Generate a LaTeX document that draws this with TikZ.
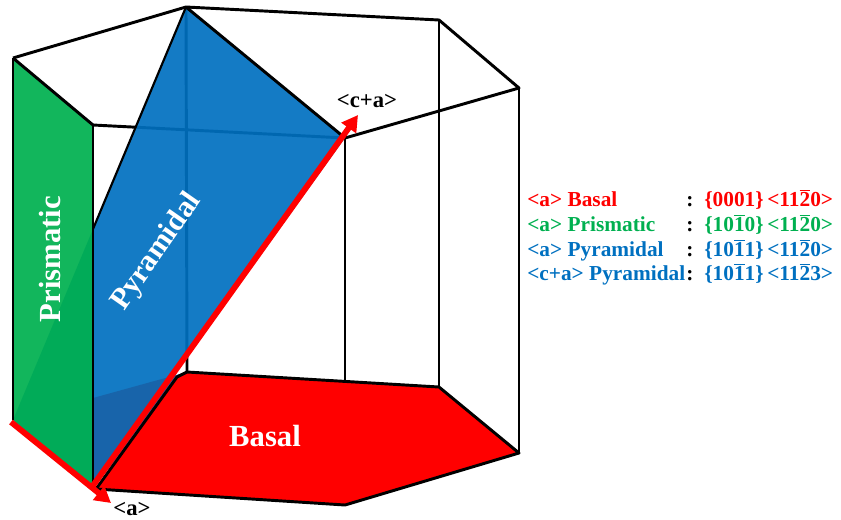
\documentclass[tikz,border=0pt]{standalone}
\usepackage{fontspec}
\setmainfont{Liberation Serif}
\usetikzlibrary{arrows.meta}
\newcommand{\ob}[1]{$\overline{\mbox{#1}}$}
\definecolor{slipred}{RGB}{255,0,0}
\definecolor{slipgreen}{RGB}{0,176,80}
\definecolor{slipblue}{RGB}{0,112,192}
\definecolor{slipdark}{RGB}{24,100,170}
\tikzset{
    edge/.style={black,line width=2.2pt,line join=round},
    thinedge/.style={black,line width=1.6pt},
    slip/.style={slipred,line width=4.4pt,-{Triangle[length=12pt,width=13pt]}},
    legend/.style={anchor=base west,inner sep=0pt,font=\fontsize{16}{16}\selectfont\bfseries},
    planelabel/.style={white,inner sep=0pt,font=\fontsize{23}{23}\selectfont\bfseries},
    dirlabel/.style={black,inner sep=0pt,font=\fontsize{17}{17}\selectfont\bfseries}
}
\begin{document}
\begin{tikzpicture}[y=-0.75pt,x=0.75pt]
    \useasboundingbox (0,0) rectangle (841,519);
    % top hexagon
    \coordinate (a1) at (13,58);
    \coordinate (b1) at (186,7);
    \coordinate (c1) at (439,20);
    \coordinate (d1) at (519,88);
    \coordinate (e1) at (345,138);
    \coordinate (f1) at (93,125);
    % bottom hexagon
    \coordinate (a2) at (13,420);
    \coordinate (b2) at (187,372);
    \coordinate (c2) at (439,387);
    \coordinate (d2) at (519,453);
    \coordinate (e2) at (345,505);
    \coordinate (f2) at (93,488);
    \coordinate (bc) at (177,377);
    \coordinate (fc) at (96,489);
    % arrow ends
    \coordinate (as) at (11,422);
    \coordinate (at) at (111,503);
    \coordinate (cs) at (92,487);
    \coordinate (ct) at (358,115);
    \coordinate (gh) at (93,398);
    \coordinate (gb) at (93,229);

    % back edges
    \draw[edge] (b1) -- (b2);
    \draw[edge] (e1) -- (e2);
    \draw[edge] (c1) -- (c2);
    \draw[edge] (d1) -- (d2);
    \draw[edge] (f1) -- (e1);

    % planes
    \fill[slipblue,opacity=.92] (b1) -- (e1) -- (f2) -- (a2) -- cycle;
    \fill[slipdark] (gh) -- (b2) -- (f2) -- cycle;
    \draw[thinedge] (b1) -- (gb);
    \fill[slipgreen,opacity=.93] (a1) -- (f1) -- (f2) -- (a2) -- cycle;
    \filldraw[edge,fill=slipred] (b2) -- (c2) -- (d2) -- (e2) -- (fc) -- (bc) -- cycle;

    % top edges
    \draw[edge] (a1) -- (b1) -- (c1) -- (d1) -- (e1) -- (b1);
    \draw[edge] (a1) -- (f1);
    \draw[edge] (a1) -- (a2);
    \draw[edge] (f1) -- (f2);

    % slip directions
    \draw[slip] (as) -- (at);
    \draw[slip] (cs) -- (ct);
    \node[dirlabel] (alabel) at (132,509) {<a>};
    \node[dirlabel] (calabel) at (367,101) {<c+a>};

    % plane names
    \node[planelabel] (basal) at (265,436) {Basal};
    \node[planelabel,rotate=90] (prismatic) at (50,259) {Prismatic};
    \node[planelabel,rotate=55,font=\fontsize{22.5}{23}\selectfont\bfseries] (pyramidal) at (157,252) {Pyramidal};

    % legend
    \node[legend,slipred] (l1) at (527,206) {<a> Basal};
    \node[legend,slipgreen] (l2) at (527,231) {<a> Prismatic};
    \node[legend,slipblue] (l3) at (527,256) {<a> Pyramidal};
    \node[legend,slipblue] (l4) at (527,280) {<c+a> Pyramidal};
    \node[legend] (s1) at (686,206) {:};
    \node[legend] (s2) at (686,231) {:};
    \node[legend] (s3) at (686,256) {:};
    \node[legend] (s4) at (686,280) {:};
    \node[legend,slipred] (r1) at (704,206) {\{0001\}\,<11\ob{2}0>};
    \node[legend,slipgreen] (r2) at (704,231) {\{10\ob{1}0\}\,<11\ob{2}0>};
    \node[legend,slipblue] (r3) at (704,256) {\{10\ob{1}1\}\,<11\ob{2}0>};
    \node[legend,slipblue] (r4) at (704,280) {\{10\ob{1}1\}\,<11\ob{2}3>};
\end{tikzpicture}
\end{document}
